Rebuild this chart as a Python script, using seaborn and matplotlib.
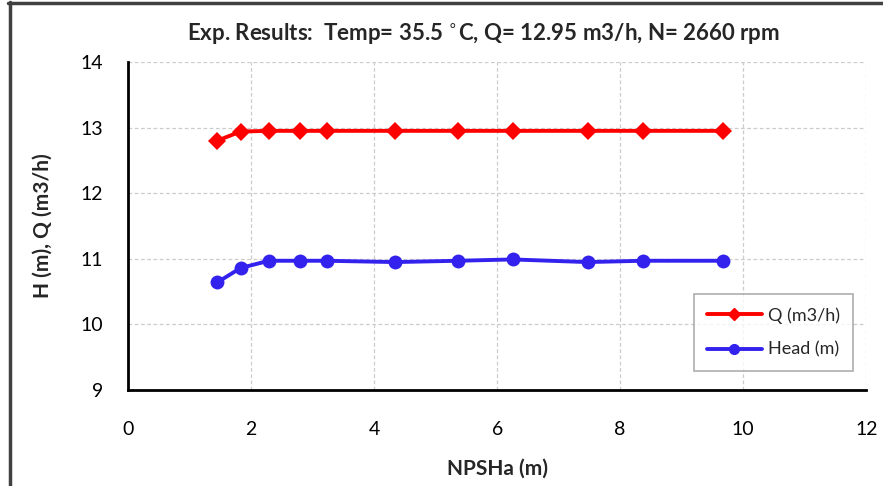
import matplotlib
matplotlib.use("Agg")
import matplotlib.pyplot as plt
import seaborn as sns
import pandas as pd
from matplotlib.ticker import MultipleLocator
from matplotlib.lines import Line2D

# Cavitation test: flow and head versus available NPSH
npsha = [1.45, 1.83, 2.29, 2.79, 3.23, 4.34, 5.36, 6.25, 7.47, 8.37, 9.67]
flow_q = [12.80, 12.94, 12.95, 12.95, 12.95, 12.95, 12.95, 12.95, 12.95, 12.95, 12.95]
head_h = [10.64, 10.86, 10.97, 10.97, 10.97, 10.95, 10.97, 10.99, 10.95, 10.97, 10.97]

x_ticks = [0, 2, 4, 6, 8, 10, 12]
y_ticks = [9, 10, 11, 12, 13, 14]

sns.set_theme(style="white")
plt.rcParams["font.family"] = ["Lato", "DejaVu Sans"]

df = pd.DataFrame({"NPSHa": npsha + npsha,
                   "value": flow_q + head_h,
                   "series": ["Q (m3/h)"] * len(npsha) + ["Head (m)"] * len(npsha)})

fig = plt.figure(figsize=(8.83, 4.86), dpi=100)
ax = fig.add_axes([0.145, 0.1975, 0.836, 0.675])

red = "#FF0000"
blue = "#3322EE"

sns.lineplot(data=df[df.series == "Q (m3/h)"], x="NPSHa", y="value", ax=ax,
             color=red, marker="D", markersize=9, linewidth=2.8,
             markeredgewidth=0, legend=False)
sns.lineplot(data=df[df.series == "Head (m)"], x="NPSHa", y="value", ax=ax,
             color=blue, marker="o", markersize=10, linewidth=2.8,
             markeredgewidth=0, legend=False)

ax.set_xlim(0, 12)
ax.set_ylim(9, 14)
ax.set_xticks(x_ticks)
ax.set_yticks(y_ticks)
ax.xaxis.set_minor_locator(MultipleLocator(1))
ax.yaxis.set_minor_locator(MultipleLocator(0.5))
ax.tick_params(axis="both", which="both", direction="in", colors="black",
               labelsize=14, width=1.5)
ax.tick_params(axis="both", which="major", length=5)
ax.tick_params(axis="both", which="minor", length=5)
ax.tick_params(axis="x", which="major", pad=22)
ax.tick_params(axis="y", which="major", pad=18)

ax.grid(True, which="major", color="#cccccc", linestyle=(0, (3, 2)), linewidth=0.9)
ax.set_axisbelow(True)

for side in ("top", "right"):
    ax.spines[side].set_visible(False)
for side in ("left", "bottom"):
    ax.spines[side].set_color("black")
    ax.spines[side].set_linewidth(2)
    ax.spines[side].set_zorder(5)

ax.set_xlabel("NPSHa (m)", fontsize=15, fontweight="bold", labelpad=15)
ax.set_ylabel("H (m), Q (m3/h)", fontsize=15, fontweight="bold", labelpad=20)
ax.set_title("Exp. Results:  Temp= 35.5 $^{\\circ}$C, Q= 12.95 m3/h, N= 2660 rpm",
             fontsize=16, fontweight="bold", pad=16, x=0.482)

handles = [Line2D([], [], color=red, marker="D", markersize=6, linewidth=2.8),
           Line2D([], [], color=blue, marker="o", markersize=7, linewidth=2.8)]
leg = ax.legend(handles, ["Q (m3/h)", "Head (m)"], loc="lower right",
                bbox_to_anchor=(0.99, 0.04), fontsize=13, frameon=True,
                fancybox=False, edgecolor="#999999", handlelength=3.0,
                handletextpad=0.35, borderpad=0.75, labelspacing=1.0,
                borderaxespad=0.3)
leg.get_frame().set_linewidth(1.2)

# Outer frame along the top and left edges
fig.add_artist(Line2D([0.0095, 1.0], [0.9935, 0.9935], transform=fig.transFigure,
                      color="#404040", linewidth=2.5))
fig.add_artist(Line2D([0.0115, 0.0115], [0.0, 0.995], transform=fig.transFigure,
                      color="#404040", linewidth=2.5))

fig.savefig("out.png", dpi=100)
